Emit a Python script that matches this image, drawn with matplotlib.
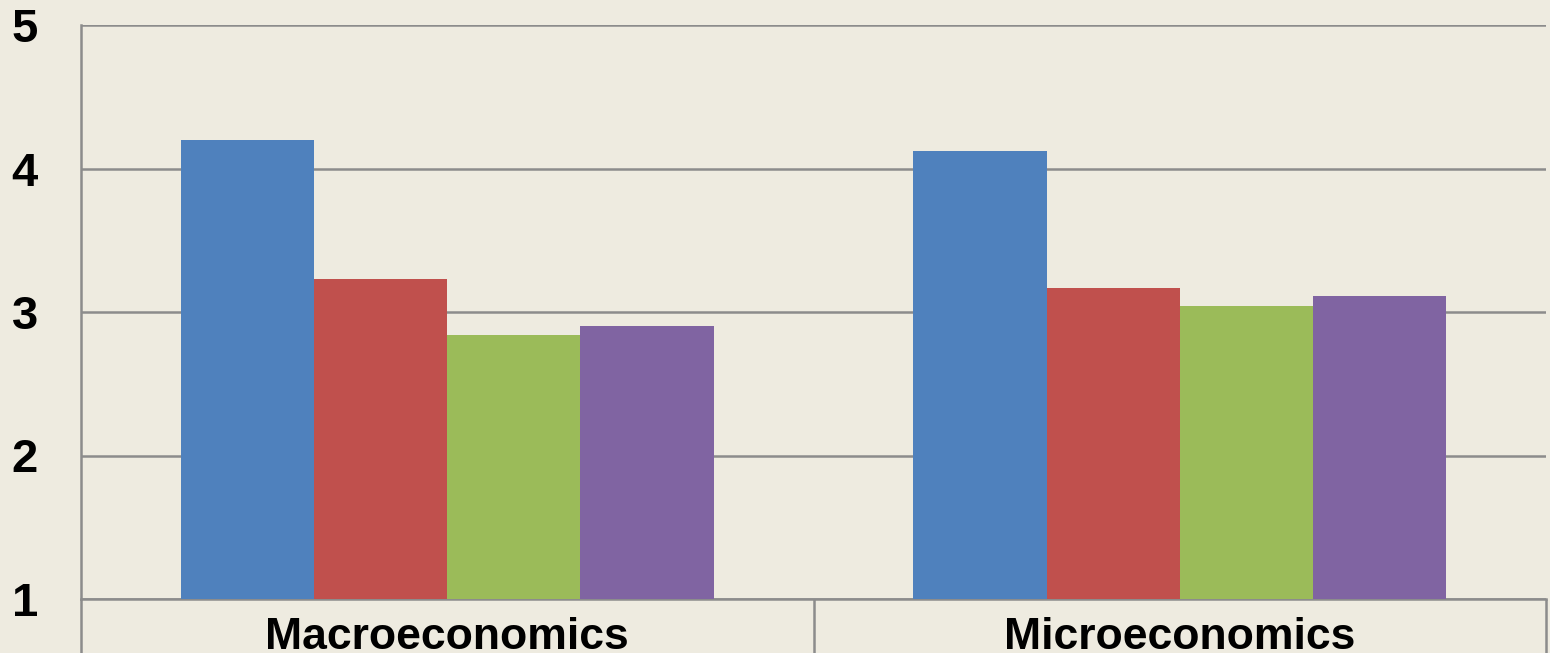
import matplotlib.pyplot as plt
import numpy as np

categories = ["Macroeconomics", "Microeconomics"]
series_names = ["Series 1", "Series 2", "Series 3", "Series 4"]
series_1 = [4.20, 4.12]
series_2 = [3.23, 3.17]
series_3 = [2.84, 3.04]
series_4 = [2.90, 3.11]
y_ticks = [1, 2, 3, 4, 5]

colors = ["#4F81BD", "#C0504D", "#9BBB59", "#8064A2"]
bg = "#EEEBE0"
grid_c = "#8C8C8C"

fig = plt.figure(figsize=(15.5, 6.53), dpi=100, facecolor=bg)
ax = fig.add_axes([81 / 1550, (653 - 599) / 653, (1546 - 81) / 1550, (599 - 25) / 653])
ax.set_facecolor(bg)

x = np.arange(len(categories))
w = 1 / 5.5
for i, vals in enumerate([series_1, series_2, series_3, series_4]):
    ax.bar(x + (i - 1.5) * w, np.array(vals) - 1, bottom=1, width=w,
           color=colors[i], label=series_names[i], zorder=3)

ax.set_xlim(-0.5, len(categories) - 0.5)
ax.set_ylim(1, 5)
ax.set_yticks(y_ticks)
ax.yaxis.grid(True, color=grid_c, linewidth=1.8, zorder=0)
ax.tick_params(axis="y", length=0, pad=31)
for lab in ax.get_yticklabels():
    lab.set_fontsize(34)
    lab.set_fontweight("bold")
    lab.set_fontfamily("Liberation Sans")

ax.set_xticks(x)
ax.set_xticklabels(categories, fontsize=32, fontweight="bold", family="Liberation Sans")
ax.set_xticks(np.arange(len(categories) + 1) - 0.5, minor=True)
ax.tick_params(axis="x", which="major", length=0, pad=13)
ax.tick_params(axis="x", which="minor", length=42, width=1.8, color=grid_c, direction="out")

for s in ["top", "right"]:
    ax.spines[s].set_visible(False)
for s in ["left", "bottom"]:
    ax.spines[s].set_color(grid_c)
    ax.spines[s].set_linewidth(1.8)

fig.savefig("out.png", dpi=100, facecolor=bg)
